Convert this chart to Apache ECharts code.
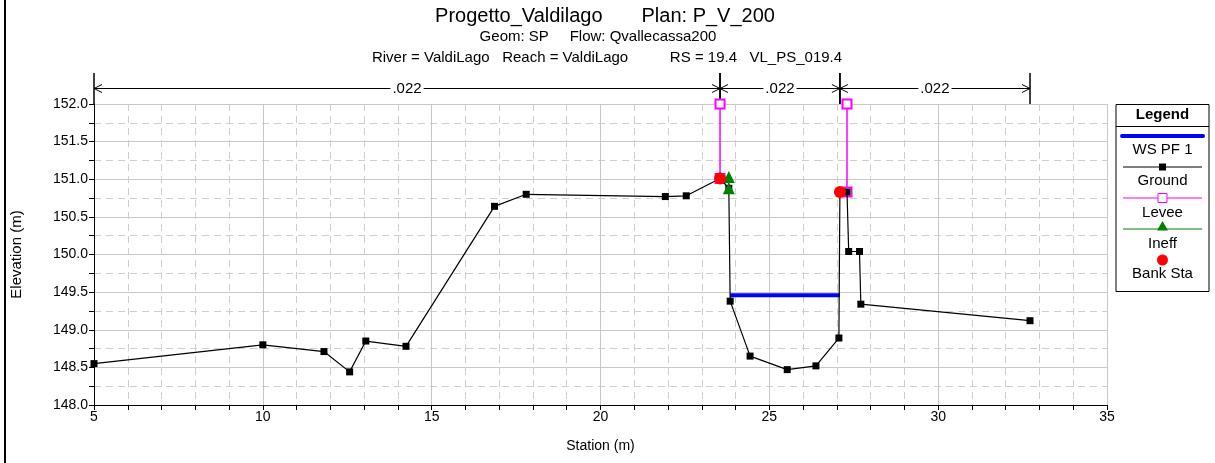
<!DOCTYPE html>
<html><head><meta charset="utf-8">
<script src="https://cdn.jsdelivr.net/npm/echarts@6/dist/echarts.min.js"></script>
<style>html,body{margin:0;padding:0;background:#fff}#c{width:1215px;height:463px}</style>
</head><body><div id="c"></div>
<script>
// ---- data ----
const groundStation = [5.00, 10.00, 11.81, 12.57, 13.05, 14.24, 16.86, 17.80, 21.92, 22.54, 23.54, 23.80, 23.84, 24.43, 25.53, 26.38, 27.06, 27.09, 27.30, 27.35, 27.67, 27.71, 32.72];
const groundElev    = [148.55, 148.80, 148.71, 148.44, 148.85, 148.78, 150.64, 150.80, 150.77, 150.78, 151.01, 150.88, 149.38, 148.65, 148.47, 148.52, 148.89, 150.83, 150.83, 150.04, 150.04, 149.34, 149.12];
const wsStation = [23.84, 27.09];
const wsElev    = [149.46, 149.46];
const leveeLeftStation  = [23.54, 23.54];
const leveeLeftElev     = [152.0, 151.01];
const leveeRightStation = [27.30, 27.30];
const leveeRightElev    = [152.0, 150.83];
const ineffStation = [23.80, 23.80];
const ineffElev    = [151.03, 150.88];
const bankStation = [23.54, 27.09];
const bankElev    = [151.01, 150.83];
const nBreaks = [5.00, 23.54, 27.09, 32.72];
const nValues = ['.022', '.022', '.022'];
const titleLine1 = 'Progetto_Valdilago       Plan: P_V_200';
const titleLine2 = 'Geom: SP     Flow: Qvallecassa200';
const titleLine3 = 'River = ValdiLago   Reach = ValdiLago          RS = 19.4   VL_PS_019.4';
const legendNames = ['WS PF 1', 'Ground', 'Levee', 'Ineff', 'Bank Sta'];

const zip = (a, b) => a.map((v, i) => [v, b[i]]);
const FONT = 'Liberation Sans, Arial, sans-serif';
const nSegments = nValues.map((v, i) => [nBreaks[i], nBreaks[i + 1], v]);

const chart = echarts.init(document.getElementById('c'), null, {renderer: 'canvas'});

const legendX = 1116, legendW = 93, legendCx = 1162.5;
const legendGraphic = {
  type: 'group', children: [
    {type: 'rect', shape: {x: legendX, y: 104.5, width: legendW, height: 187}, style: {fill: '#fff', stroke: '#000', lineWidth: 1}},
    {type: 'line', shape: {x1: legendX, y1: 126.5, x2: legendX + legendW, y2: 126.5}, style: {stroke: '#000', lineWidth: 1}},
    {type: 'text', x: legendCx, y: 115, style: {text: 'Legend', font: 'bold 15px ' + FONT, fill: '#000', align: 'center', verticalAlign: 'middle'}},
    {type: 'line', shape: {x1: 1122, y1: 136, x2: 1203, y2: 136}, style: {stroke: '#0000ff', lineWidth: 4, lineCap: 'round'}},
    {type: 'text', x: legendCx, y: 150, style: {text: legendNames[0], font: '15px ' + FONT, fill: '#000', align: 'center', verticalAlign: 'middle'}},
    {type: 'line', shape: {x1: 1123, y1: 167, x2: 1202, y2: 167}, style: {stroke: '#000', lineWidth: 1}},
    {type: 'rect', shape: {x: legendCx - 3.5, y: 163.5, width: 7, height: 7}, style: {fill: '#000'}},
    {type: 'text', x: legendCx, y: 181, style: {text: legendNames[1], font: '15px ' + FONT, fill: '#000', align: 'center', verticalAlign: 'middle'}},
    {type: 'line', shape: {x1: 1123, y1: 198, x2: 1202, y2: 198}, style: {stroke: '#ff00ff', lineWidth: 1}},
    {type: 'rect', shape: {x: legendCx - 4.5, y: 193.5, width: 9, height: 9}, style: {fill: '#fff', stroke: '#ff00ff', lineWidth: 1}},
    {type: 'text', x: legendCx, y: 212.5, style: {text: legendNames[2], font: '15px ' + FONT, fill: '#000', align: 'center', verticalAlign: 'middle'}},
    {type: 'line', shape: {x1: 1123, y1: 229, x2: 1202, y2: 229}, style: {stroke: '#008000', lineWidth: 1}},
    {type: 'polygon', shape: {points: [[legendCx, 221], [legendCx - 5.5, 230.5], [legendCx + 5.5, 230.5]]}, style: {fill: '#008000'}},
    {type: 'text', x: legendCx, y: 243.5, style: {text: legendNames[3], font: '15px ' + FONT, fill: '#000', align: 'center', verticalAlign: 'middle'}},
    {type: 'circle', shape: {cx: legendCx, cy: 260, r: 5.5}, style: {fill: '#ff0000'}},
    {type: 'text', x: legendCx, y: 274, style: {text: legendNames[4], font: '15px ' + FONT, fill: '#000', align: 'center', verticalAlign: 'middle'}}
  ]
};

const option = {
  backgroundColor: '#fff',
  animation: false,
  textStyle: {fontFamily: FONT},
  grid: [
    {left: 94, right: 108, top: 104, bottom: 58, containLabel: false},
    {left: 94, right: 108, top: 73, height: 31, containLabel: false}
  ],
  xAxis: [{
    type: 'value', gridIndex: 0, min: 5, max: 35, interval: 5,
    name: 'Station (m)', nameLocation: 'middle', nameGap: 34,
    nameTextStyle: {fontSize: 14, color: '#000', fontFamily: FONT},
    axisLine: {show: true, onZero: false, lineStyle: {color: '#000', width: 1}},
    axisTick: {show: true, length: 5, lineStyle: {color: '#000'}},
    minorTick: {show: true, splitNumber: 5, length: 5, lineStyle: {color: '#000'}},
    axisLabel: {fontSize: 14, color: '#000', margin: 5, fontFamily: FONT},
    splitLine: {show: true, lineStyle: {color: '#c8c8c8', width: 1}},
    minorSplitLine: {show: true, lineStyle: {color: '#cfcfcf', width: 1, type: [7, 5]}}
  }, {
    type: 'value', gridIndex: 1, min: 5, max: 35, show: false
  }],
  yAxis: [{
    type: 'value', gridIndex: 0, min: 148, max: 152, interval: 0.5,
    name: 'Elevation (m)', nameLocation: 'middle', nameGap: 70, nameRotate: 90,
    nameTextStyle: {fontSize: 15, color: '#000', fontFamily: FONT},
    axisLine: {show: true, onZero: false, lineStyle: {color: '#000', width: 1}},
    axisTick: {show: true, length: 5, lineStyle: {color: '#000'}},
    minorTick: {show: true, splitNumber: 2, length: 5, lineStyle: {color: '#000'}},
    axisLabel: {fontSize: 14, color: '#000', margin: 6, fontFamily: FONT, formatter: v => v.toFixed(1)},
    splitLine: {show: true, lineStyle: {color: '#c8c8c8', width: 1}},
    minorSplitLine: {show: true, lineStyle: {color: '#cfcfcf', width: 1, type: [7, 5]}}
  }, {
    type: 'value', gridIndex: 1, min: 0, max: 1, show: false
  }],
  graphic: [
    {type: 'line', shape: {x1: 5, y1: 0, x2: 5, y2: 463}, style: {stroke: '#000', lineWidth: 2}},
    {type: 'text', x: 605, y: 16, style: {text: titleLine1, font: '20px ' + FONT, fill: '#000', align: 'center', verticalAlign: 'middle'}},
    {type: 'text', x: 598, y: 37, style: {text: titleLine2, font: '15px ' + FONT, fill: '#000', align: 'center', verticalAlign: 'middle'}},
    {type: 'text', x: 607, y: 58, style: {text: titleLine3, font: '15px ' + FONT, fill: '#000', align: 'center', verticalAlign: 'middle'}},
    legendGraphic
  ],
  series: [
    {
      name: 'Manning n', type: 'custom', xAxisIndex: 1, yAxisIndex: 1, clip: false, silent: true,
      data: nSegments,
      renderItem: function (params, api) {
        const x0 = api.value(0), x1 = api.value(1), label = nSegments[params.dataIndex][2];
        const p0 = api.coord([x0, 0.5]), p1 = api.coord([x1, 0.5]);
        const top0 = api.coord([x0, 1]), bot0 = api.coord([x0, 0]);
        const top1 = api.coord([x1, 1]), bot1 = api.coord([x1, 0]);
        const st = {stroke: '#000', lineWidth: 1, fill: null};
        const children = [
          {type: 'line', shape: {x1: p0[0], y1: p0[1], x2: p1[0], y2: p1[1]}, style: st},
          {type: 'polyline', shape: {points: [[p0[0] + 8, p0[1] - 4], [p0[0], p0[1]], [p0[0] + 8, p0[1] + 4]]}, style: st},
          {type: 'polyline', shape: {points: [[p1[0] - 8, p1[1] - 4], [p1[0], p1[1]], [p1[0] - 8, p1[1] + 4]]}, style: st},
          {type: 'line', shape: {x1: top0[0], y1: top0[1], x2: bot0[0], y2: bot0[1]}, style: {stroke: '#000', lineWidth: 1.5}},
          {type: 'line', shape: {x1: top1[0], y1: top1[1], x2: bot1[0], y2: bot1[1]}, style: {stroke: '#000', lineWidth: 1.5}},
          {type: 'text', x: (p0[0] + p1[0]) / 2, y: p0[1], style: {text: label, font: '15px ' + FONT, fill: '#000', align: 'center', verticalAlign: 'middle', backgroundColor: '#fff', padding: [0, 2]}}
        ];
        return {type: 'group', children: children};
      }
    },
    {
      name: 'Levee', type: 'line', data: zip(leveeLeftStation, leveeLeftElev), clip: false,
      symbol: 'emptyRect', symbolSize: 9, showAllSymbol: true,
      lineStyle: {color: '#ff00ff', width: 1.5}, itemStyle: {color: '#ff00ff', borderWidth: 1}, z: 3
    },
    {
      name: 'Levee', type: 'line', data: zip(leveeRightStation, leveeRightElev), clip: false,
      symbol: 'emptyRect', symbolSize: 9, showAllSymbol: true,
      lineStyle: {color: '#ff00ff', width: 1.5}, itemStyle: {color: '#ff00ff', borderWidth: 1}, z: 3
    },
    {
      name: 'WS PF 1', type: 'line', data: zip(wsStation, wsElev), symbol: 'none',
      lineStyle: {color: '#0000ff', width: 4}, z: 4
    },
    {
      name: 'Ground', type: 'line', data: zip(groundStation, groundElev),
      symbol: 'rect', symbolSize: 7, showAllSymbol: true,
      lineStyle: {color: '#000', width: 1.2}, itemStyle: {color: '#000'}, z: 5
    },
    {
      name: 'Ineff', type: 'line', data: zip(ineffStation, ineffElev),
      symbol: 'triangle', symbolSize: 12, showAllSymbol: true,
      lineStyle: {color: '#008000', width: 1}, itemStyle: {color: '#008000'}, z: 6
    },
    {
      name: 'Bank Sta', type: 'scatter', data: zip(bankStation, bankElev),
      symbol: 'circle', symbolSize: 12, itemStyle: {color: '#ff0000', opacity: 1}, z: 7
    }
  ]
};
chart.setOption(option);
</script>
</body></html>
